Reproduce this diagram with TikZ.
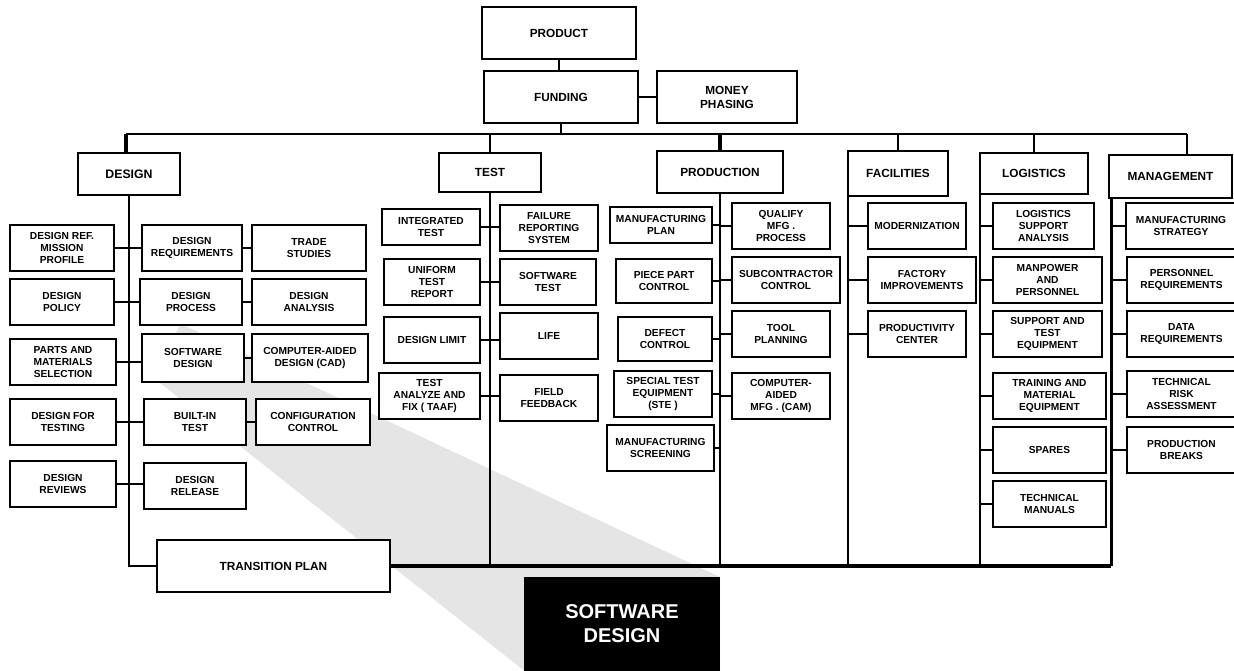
\documentclass[tikz,border=0pt]{standalone}
\usepackage{fontspec}
\setmainfont{Liberation Sans}

% box from its two corners: [style]{name}{x1}{y1}{x2}{y2}{text}
\newcommand{\wbs}[7][box]{%
  \node[#1, minimum width={#5-#3}, minimum height={#6-#4}] (#2)
    at ({(#3+#5)/2},{(#4+#6)/2}) {#7};}

\begin{document}
\begin{tikzpicture}[%
x=1pt, y=-1pt,
box/.style={draw, fill=white, line width=1.5pt, inner sep=0pt, align=center,
  font=\bfseries\fontsize{10.2}{12}\selectfont},
head/.style={box, font=\bfseries\fontsize{11.8}{14}\selectfont},
link/.style={line width=1.7pt},
trunk/.style={line width=3.2pt},
]
\useasboundingbox (0,0) rectangle (1234,670);
%% wedge;
\fill[black!10] (181,324) -- (720,577) -- (720,680) -- (536,680) -- (150,375) -- cycle;
%% top;
\wbs[head]{product}{482}{7}{636}{59}{PRODUCT}
\wbs[head]{funding}{484}{71}{638}{123}{FUNDING}
\wbs[head]{money}{657}{71}{797}{123}{MONEY\\PHASING}
\wbs[head, font=\bfseries\fontsize{12.3}{14}\selectfont]{design}{78}{153}{180}{195}{DESIGN}
\wbs[head]{test}{439}{153}{541}{192}{TEST}
\wbs[head]{production}{657}{151}{783}{193}{PRODUCTION}
\wbs[head]{facilities}{848}{151}{948}{196}{FACILITIES}
\wbs[head]{logistics}{980}{153}{1088}{194}{LOGISTICS}
\wbs[head]{management}{1109}{155}{1232}{198}{MANAGEMENT}
%% design;
\wbs{dref}{10}{225}{114}{271}{DESIGN REF.\\MISSION\\PROFILE}
\wbs{dreq}{142}{225}{242}{271}{DESIGN\\REQUIREMENTS}
\wbs{trade}{252}{225}{366}{271}{TRADE\\STUDIES}
\wbs{dpol}{10}{279}{114}{325}{DESIGN\\POLICY}
\wbs{dproc}{140}{279}{242}{325}{DESIGN\\PROCESS}
\wbs{danal}{252}{279}{366}{325}{DESIGN\\ANALYSIS}
\wbs{parts}{10}{339}{116}{385}{PARTS AND\\MATERIALS\\SELECTION}
\wbs{swdes}{142}{334}{244}{382}{SOFTWARE\\DESIGN}
\wbs{cad}{252}{334}{368}{382}{COMPUTER-AIDED\\DESIGN (CAD)}
\wbs{dtest}{10}{399}{116}{445}{DESIGN FOR\\TESTING}
\wbs{bit}{144}{399}{246}{445}{BUILT-IN\\TEST}
\wbs{config}{256}{399}{370}{445}{CONFIGURATION\\CONTROL}
\wbs{drev}{10}{461}{116}{507}{DESIGN\\REVIEWS}
\wbs{drel}{144}{463}{246}{509}{DESIGN\\RELEASE}
\wbs[head]{transition}{157}{540}{390}{592}{TRANSITION PLAN}
%% test;
\wbs{integ}{382}{209}{480}{245}{INTEGRATED\\TEST}
\wbs{failure}{500}{205}{598}{251}{FAILURE\\REPORTING\\SYSTEM}
\wbs{uniform}{384}{259}{480}{305}{UNIFORM\\TEST\\REPORT}
\wbs{swtest}{500}{259}{596}{305}{SOFTWARE\\TEST}
\wbs{dlimit}{384}{317}{480}{363}{DESIGN LIMIT}
\wbs{life}{500}{313}{598}{359}{LIFE}
\wbs{taaf}{379}{373}{480}{419}{TEST\\ANALYZE AND\\FIX ( TAAF)}
\wbs{field}{500}{375}{598}{421}{FIELD\\FEEDBACK}
%% production;
\wbs{mplan}{610}{207}{712}{243}{MANUFACTURING\\PLAN}
\wbs{qualify}{732}{203}{830}{249}{QUALIFY\\MFG .\\PROCESS}
\wbs{piece}{616}{259}{712}{303}{PIECE PART\\CONTROL}
\wbs{subcon}{732}{257}{840}{303}{SUBCONTRACTOR\\CONTROL}
\wbs{defect}{618}{317}{712}{361}{DEFECT\\CONTROL}
\wbs{tool}{732}{311}{830}{357}{TOOL\\PLANNING}
\wbs{ste}{614}{371}{712}{417}{SPECIAL TEST\\EQUIPMENT\\(STE )}
\wbs{cam}{732}{373}{830}{419}{COMPUTER-\\AIDED\\MFG . (CAM)}
\wbs{screen}{607}{425}{714}{471}{MANUFACTURING\\SCREENING}
%% facilities;
\wbs{modern}{868}{203}{966}{249}{MODERNIZATION}
\wbs{factory}{868}{257}{976}{303}{FACTORY\\IMPROVEMENTS}
\wbs{prodcen}{868}{311}{966}{357}{PRODUCTIVITY\\CENTER}
%% logistics;
\wbs{lsa}{993}{203}{1094}{249}{LOGISTICS\\SUPPORT\\ANALYSIS}
\wbs{manpower}{993}{257}{1102}{303}{MANPOWER\\AND\\PERSONNEL}
\wbs{supte}{993}{311}{1102}{357}{SUPPORT AND\\TEST\\EQUIPMENT}
\wbs{training}{993}{373}{1106}{419}{TRAINING AND\\MATERIAL\\EQUIPMENT}
\wbs{spares}{993}{427}{1106}{473}{SPARES}
\wbs{techman}{993}{481}{1106}{527}{TECHNICAL\\MANUALS}
%% management;
\wbs{mstrat}{1126}{203}{1236}{249}{MANUFACTURING\\STRATEGY}
\wbs{persreq}{1127}{257}{1236}{303}{PERSONNEL\\REQUIREMENTS}
\wbs{datareq}{1127}{311}{1236}{357}{DATA\\REQUIREMENTS}
\wbs{risk}{1127}{371}{1236}{417}{TECHNICAL\\RISK\\ASSESSMENT}
\wbs{pbreaks}{1127}{427}{1236}{473}{PRODUCTION\\BREAKS}
%% bus;
\coordinate (bus-w) at (126,134);
\coordinate (bus-e) at (1187,134);
\coordinate (fspine) at ([xshift=1pt]facilities.south west);
\coordinate (lspine) at ([xshift=1pt]logistics.south west);
\coordinate (mspine) at ([xshift=3pt]management.south west);
\draw[link] (product.south) -- (product.south |- funding.north);
\draw[link] (funding.east) -- (money.west);
\draw[link] (funding.south) -- (funding.south |- bus-w);
\draw[link] (bus-w) -- (bus-e);
\draw[trunk] (bus-w) -- (bus-w |- design.north);
\draw[link] (test.north) -- (test.north |- bus-w);
\draw[trunk] (production.north) -- (production.north |- bus-w);
\draw[link] (facilities.north) -- (facilities.north |- bus-w);
\draw[link] (logistics.north) -- (logistics.north |- bus-w);
\draw[link] (bus-e) -- (bus-e |- management.north);
%% spines;
\draw[link] (design.south) |- (transition.west);
\draw[link] (test.south) -- (test.south |- transition.east);
\draw[link] (production.south) -- (production.south |- transition.east);
\draw[link] (fspine) -- (fspine |- transition.east);
\draw[link] (lspine) -- (lspine |- transition.east);
\draw[trunk] (mspine) -- (mspine |- transition.east);
\draw[trunk] (transition.east) -- (transition.east -| mspine);
%% design links;
\draw[link] (dref.east) -- (dref.east -| dreq.west);
\draw[link] (dreq.east) -- (dreq.east -| trade.west);
\draw[link] (dpol.east) -- (dpol.east -| dproc.west);
\draw[link] (dproc.east) -- (dproc.east -| danal.west);
\draw[link] (parts.east) -- (parts.east -| swdes.west);
\draw[link] (swdes.east) -- (swdes.east -| cad.west);
\draw[link] (dtest.east) -- (dtest.east -| bit.west);
\draw[link] (bit.east) -- (bit.east -| config.west);
\draw[link] (drev.east) -- (drev.east -| drel.west);
%% test links;
\draw[link] (integ.east) -- (integ.east -| failure.west);
\draw[link] (uniform.east) -- (uniform.east -| swtest.west);
\draw[link] (dlimit.east) -- (dlimit.east -| life.west);
\draw[link] (taaf.east) -- (taaf.east -| field.west);
%% production links;
\draw[link] (mplan.east) -- (mplan.east -| production.south);
\draw[link] (qualify.west) -- (qualify.west -| production.south);
\draw[link] (piece.east) -- (piece.east -| production.south);
\draw[link] (subcon.west) -- (subcon.west -| production.south);
\draw[link] (defect.east) -- (defect.east -| production.south);
\draw[link] (tool.west) -- (tool.west -| production.south);
\draw[link] (ste.east) -- (ste.east -| production.south);
\draw[link] (cam.west) -- (cam.west -| production.south);
\draw[link] (screen.east) -- (screen.east -| production.south);
%% facilities links;
\draw[link] (modern.west) -- (modern.west -| fspine);
\draw[link] (factory.west) -- (factory.west -| fspine);
\draw[link] (prodcen.west) -- (prodcen.west -| fspine);
%% logistics links;
\draw[link] (lsa.west) -- (lsa.west -| lspine);
\draw[link] (manpower.west) -- (manpower.west -| lspine);
\draw[link] (supte.west) -- (supte.west -| lspine);
\draw[link] (training.west) -- (training.west -| lspine);
\draw[link] (spares.west) -- (spares.west -| lspine);
\draw[link] (techman.west) -- (techman.west -| lspine);
%% management links;
\draw[link] (mstrat.west) -- (mstrat.west -| mspine);
\draw[link] (persreq.west) -- (persreq.west -| mspine);
\draw[link] (datareq.west) -- (datareq.west -| mspine);
\draw[link] (risk.west) -- (risk.west -| mspine);
\draw[link] (pbreaks.west) -- (pbreaks.west -| mspine);
%% callout;
\fill[black] (524,577) rectangle (720,680);
\node[text=white, align=center, font=\bfseries\fontsize{20}{24}\selectfont] (swcall) at (622,624) {SOFTWARE\\DESIGN};
\end{tikzpicture}
\end{document}
